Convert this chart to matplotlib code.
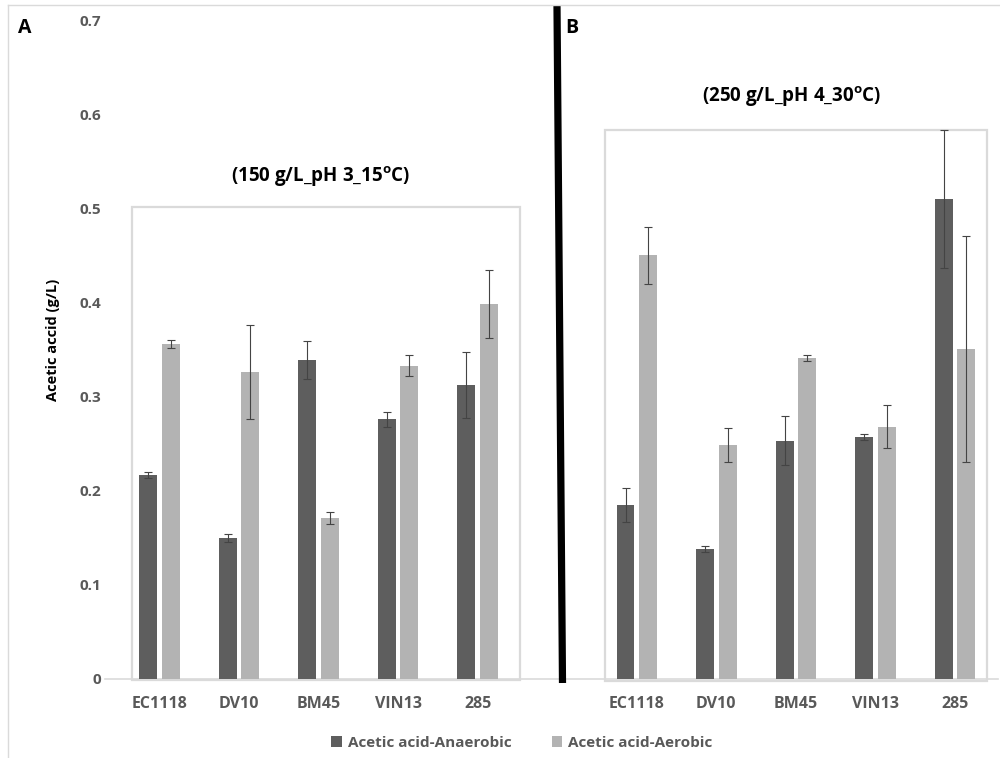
import matplotlib
matplotlib.use("Agg")
import matplotlib.pyplot as plt
from matplotlib.patches import Rectangle, Patch
from matplotlib.lines import Line2D
import numpy as np

# ---------------------------------------------------------------------------
# Data
# ---------------------------------------------------------------------------
strains = ["EC1118", "DV10", "BM45", "VIN13", "285"]

# Panel A: 150 g/L, pH 3, 15 C
a_anaerobic = [0.217, 0.150, 0.339, 0.276, 0.312]
a_anaerobic_err = [0.003, 0.004, 0.020, 0.008, 0.035]
a_aerobic = [0.356, 0.326, 0.171, 0.333, 0.398]
a_aerobic_err = [0.004, 0.050, 0.006, 0.011, 0.036]

# Panel B: 250 g/L, pH 4, 30 C
b_anaerobic = [0.185, 0.138, 0.253, 0.257, 0.510]
b_anaerobic_err = [0.018, 0.003, 0.026, 0.003, 0.073]
b_aerobic = [0.450, 0.249, 0.341, 0.268, 0.351]
b_aerobic_err = [0.030, 0.018, 0.003, 0.023, 0.120]

y_ticks = [0, 0.1, 0.2, 0.3, 0.4, 0.5, 0.6, 0.7]
y_tick_labels = ["0", "0.1", "0.2", "0.3", "0.4", "0.5", "0.6", "0.7"]

# ---------------------------------------------------------------------------
# Style
# ---------------------------------------------------------------------------
plt.rcParams["font.family"] = ["Open Sans", "DejaVu Sans"]
plt.rcParams["mathtext.fontset"] = "custom"
plt.rcParams["mathtext.bf"] = "Open Sans:bold"
plt.rcParams["mathtext.rm"] = "Open Sans"

DARK = "#5e5e5e"
LIGHT = "#b3b3b3"
TXT = "#595959"
FRAME = "#dadada"

W, H = 1000, 758
fig = plt.figure(figsize=(W / 100, H / 100), dpi=100)

# axes placed so that slot i is centred at x = 159.5 + 79.55*i px
slot_px, x0_px = 79.55, 159.5
left_px, right_px, top_px, bot_px = 105, 998, 20, 679
ax = fig.add_axes([left_px / W, 1 - bot_px / H,
                   (right_px - left_px) / W, (bot_px - top_px) / H])
ax.set_xlim((left_px - x0_px) / slot_px, (right_px - x0_px) / slot_px)
ax.set_ylim(0, 0.7)

pos_a = np.arange(5)
pos_b = np.arange(5) + 6  # slot 5 left empty for the divider
width = 0.225
off = 0.142

err_kw = dict(ecolor="#444444", elinewidth=0.8, capsize=2.6, capthick=0.8)

for pos, ana, ana_e, aer, aer_e in [
    (pos_a, a_anaerobic, a_anaerobic_err, a_aerobic, a_aerobic_err),
    (pos_b, b_anaerobic, b_anaerobic_err, b_aerobic, b_aerobic_err),
]:
    ax.bar(pos - off, ana, width, yerr=ana_e, color=DARK, error_kw=err_kw, zorder=3)
    ax.bar(pos + off, aer, width, yerr=aer_e, color=LIGHT, error_kw=err_kw, zorder=3)

# light boxes around each panel's bars
ax.add_patch(Rectangle((-0.35, -0.001), 4.88, 0.502, fill=False,
                       edgecolor=FRAME, linewidth=1.6, zorder=2, clip_on=False))
ax.add_patch(Rectangle((5.6, -0.002), 4.8, 0.5855, fill=False,
                       edgecolor=FRAME, linewidth=1.6, zorder=2, clip_on=False))

ax.set_xticks(list(pos_a) + list(pos_b))
ax.set_xticklabels(strains + strains, fontsize=11.5, fontweight="bold", color=TXT)
ax.set_yticks(y_ticks)
ax.set_yticklabels(y_tick_labels, fontsize=11, fontweight="bold", color=TXT)
ax.tick_params(axis="both", length=0)
ax.tick_params(axis="x", pad=12)
ax.tick_params(axis="y", pad=3)

for s in ["top", "right", "left"]:
    ax.spines[s].set_visible(False)
ax.spines["bottom"].set_color(FRAME)
ax.spines["bottom"].set_linewidth(1.2)

ax.set_ylabel("Acetic accid (g/L)", fontsize=10.5, fontweight="bold", color="black")
ax.yaxis.set_label_coords(-0.050, 0.515)

# panel titles
ax.text(2.02, 0.533, r"(150 g/L_pH 3_15$^{\mathbf{o}}$C)", ha="center", va="center",
        fontsize=13.5, fontweight="bold", color="black")
ax.text(7.95, 0.6185, r"(250 g/L_pH 4_30$^{\mathbf{o}}$C)", ha="center", va="center",
        fontsize=13.5, fontweight="bold", color="black")

# panel letters
fig.text(25 / W, 1 - 28 / H, "A", fontsize=14, fontweight="bold", ha="center", va="center")
fig.text(572 / W, 1 - 28 / H, "B", fontsize=14, fontweight="bold", ha="center", va="center")

# thick divider and light outer frame
fig.add_artist(Line2D([557 / W, 562.5 / W], [1 - 6 / H, 1 - 683 / H],
                      color="black", linewidth=5.2, solid_capstyle="butt"))
fig.add_artist(Line2D([8 / W, 8 / W], [0, 1 - 5 / H], color=FRAME, linewidth=1.0))
fig.add_artist(Line2D([8 / W, 1], [1 - 5 / H, 1 - 5 / H], color=FRAME, linewidth=1.0))

handles = [Patch(facecolor=DARK, label="Acetic acid-Anaerobic"),
           Patch(facecolor=LIGHT, label="Acetic acid-Aerobic")]
leg = fig.legend(handles=handles, loc="center", bbox_to_anchor=(522 / W, 1 - 743 / H),
                 ncol=2, frameon=False, handlelength=0.7, handleheight=0.7,
                 handletextpad=0.4, columnspacing=2.6,
                 prop={"weight": "bold", "size": 11})
for t in leg.get_texts():
    t.set_color(TXT)

fig.savefig("out.png", dpi=100)
